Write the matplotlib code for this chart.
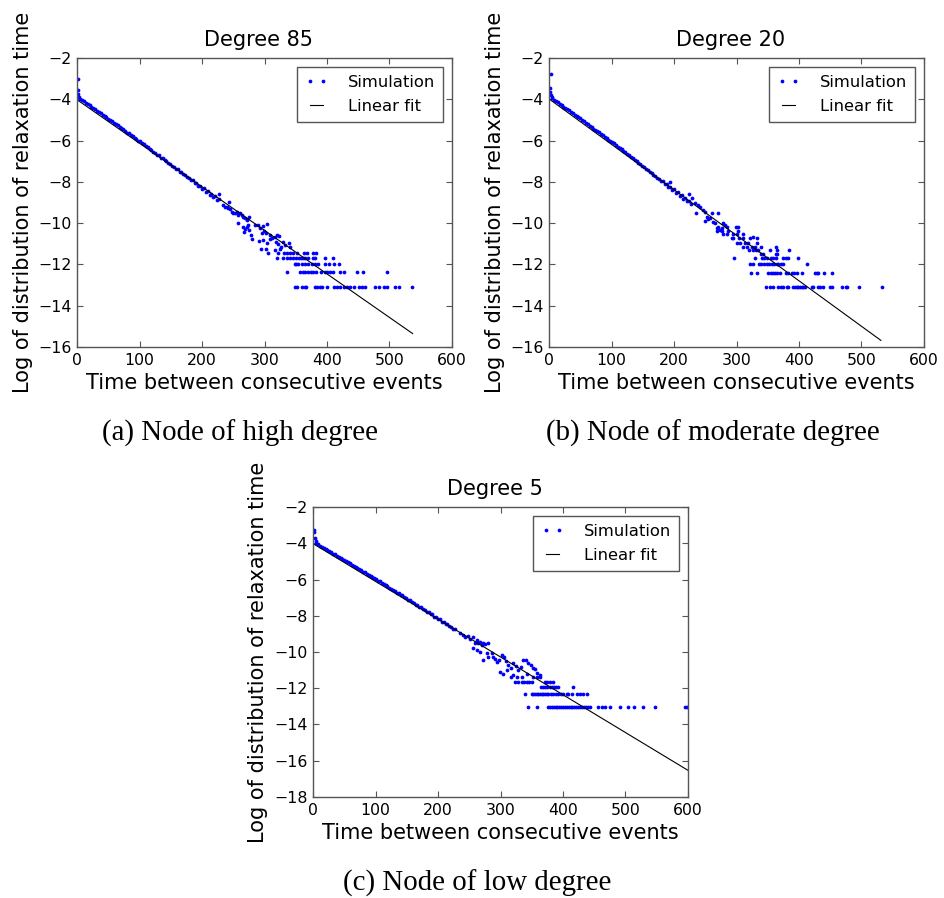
import matplotlib
matplotlib.use("Agg")
import matplotlib.pyplot as plt
import numpy as np

plt.rcParams['font.family'] = 'DejaVu Sans'
plt.rcParams['axes.unicode_minus'] = True

# ---- Degree 85 ----
a_head_t = [1, 1, 2, 3]
a_head_y = [-3.02, -3.53, -3.76, -3.87]
a_band_y = [-3.97, -4.05, -4.09, -4.17, -4.25, -4.29, -4.36, -4.44, -4.48, -4.55,
            -4.63, -4.68, -4.75, -4.83, -4.87, -4.94, -5.02, -5.07, -5.14, -5.22,
            -5.26, -5.33, -5.41, -5.45, -5.53, -5.61, -5.64, -5.74, -5.78, -5.87,
            -5.91, -6.00, -6.04, -6.14, -6.18, -6.27, -6.31, -6.42, -6.45, -6.55,
            -6.58, -6.69, -6.72, -6.82, -6.85, -6.96, -6.98, -7.10, -7.12, -7.23,
            -7.26, -7.36, -7.39, -7.50, -7.52, -7.64, -7.66, -7.78, -7.79, -7.92,
            -7.93, -8.06, -8.05, -8.21, -8.19, -8.35, -8.31, -8.47, -8.44, -8.62,
            -8.57, -8.75, -8.70, -8.88, -8.83]
a_tail_t = [227.7, 243.7, 234.1, 236.8, 239.5, 242.1, 244.8, 247.5, 250.1, 252.8,
            255.5, 258.1, 260.8, 263.5, 266.1, 258.1, 268.8, 271.5, 275.7, 266.1,
            268.8, 267.2, 271.5, 274.1, 275.7, 277.9, 279.5, 284.8, 290.1, 292.8,
            297.1, 304.5, 299.2, 302.4, 308.8, 295.5, 291.2, 298.1, 303.5, 308.8,
            311.5, 316.8, 320.5, 323.7, 318.4, 322.1, 325.9, 329.1, 332.8, 339.7,
            340.8, 294.4, 302.4, 305.6, 316.8, 324.8]
a_tail_y = [-8.60, -8.96, -9.12, -9.20, -9.23, -9.28, -9.33, -9.44, -9.49, -9.53,
            -9.44, -9.61, -9.53, -9.61, -9.69, -10.01, -9.77, -9.85, -9.72, -10.17,
            -10.30, -10.41, -10.20, -10.09, -10.33, -10.58, -10.79, -10.09, -10.09, -10.25,
            -10.14, -10.04, -10.37, -10.49, -10.58, -10.49, -10.85, -10.82, -10.98, -10.79,
            -10.74, -10.66, -10.58, -10.62, -10.90, -11.01, -11.14, -10.90, -11.06, -10.95,
            -11.17, -11.27, -11.27, -11.46, -11.30, -11.27]
# rare intervals sit on discrete levels log(k/N)
a_lvl_y = [-13.07, -12.38, -11.97, -11.69, -11.46]
a_lvl_t = [
    [348, 352, 360, 364, 367, 381, 384, 388, 392, 400, 411, 416, 421, 427, 432,
     437, 443, 451, 456, 461, 477, 483, 491, 496, 509, 515, 536],
    [336.5, 356.8, 361, 365, 370, 374, 378, 382, 391, 397, 400, 405, 409, 420,
     428, 448.5, 458, 496],
    [348.8, 350.4, 354.1, 359.5, 364.8, 370.1, 375.5, 380.8, 386.1, 396.8, 403,
     411.2, 419.7],
    [320.5, 330.1, 335.5, 340.8, 345.1, 350.4, 355.7, 358.5, 362, 364.8, 370.1,
     378.1, 380.8, 396.3, 410.1],
    [322, 331.2, 336.5, 340.8, 346.1, 351.5, 363.7, 367.5, 378.1, 382.4],
]
a_fit_t = [0, 537]
a_fit_y = [-4.02, -15.35]

# ---- Degree 20 ----
b_head_t = [3, 1, 2, 3, 4]
b_head_y = [-2.79, -3.43, -3.64, -3.80, -3.90]
b_band_y = [-3.96, -4.02, -4.10, -4.14, -4.23, -4.28, -4.36, -4.40, -4.49, -4.53,
            -4.62, -4.67, -4.75, -4.80, -4.88, -4.93, -5.02, -5.06, -5.15, -5.20,
            -5.29, -5.33, -5.42, -5.47, -5.55, -5.60, -5.69, -5.74, -5.82, -5.87,
            -5.96, -6.01, -6.09, -6.14, -6.23, -6.29, -6.38, -6.43, -6.52, -6.57,
            -6.66, -6.71, -6.80, -6.85, -6.95, -6.99, -7.10, -7.13, -7.24, -7.27,
            -7.39, -7.41, -7.53, -7.55, -7.68, -7.70, -7.83, -7.84, -7.97, -7.96,
            -8.11, -8.12, -8.25, -8.24, -8.38, -8.37, -8.52, -8.51, -8.67, -8.65,
            -8.82, -8.79, -8.95, -8.93, -9.08]
b_tail_t = [193.0, 224.5, 228.3, 233.6, 235.2, 238.9, 241.6, 245.9, 249.6, 249.6,
            252.3, 254.9, 257.6, 260.3, 262.9, 270.9, 265.6, 268.3, 270.9, 273.6,
            276.3, 278.9, 281.6, 284.3, 299.2, 302.9,
            320.5, 326.9, 331.2, 334.9, 353.6, 364.3, 384.3,
            309.9, 316.3, 324.3, 329.6, 338.7, 363.2,
            300.3, 305.6, 313.6, 318.9, 332.3,
            292.3, 294.9, 304.5, 310.9, 321.6, 333.3, 326.7,
            278.9, 284.3, 293.9, 300.3, 310.9,
            268.3, 276.3, 286.9, 302.9]
b_tail_y = [-8.03, -8.60, -8.80, -9.04, -9.53, -9.12, -9.23, -9.36, -9.44, -9.88,
            -9.69, -9.82, -9.77, -9.53, -9.93, -9.53, -10.01, -10.25, -10.17, -10.33,
            -10.25, -10.01, -10.09, -10.20, -10.17, -10.20,
            -11.30, -11.30, -11.30, -11.30, -11.30, -11.30, -11.30,
            -11.14, -11.14, -11.14, -11.14, -11.14, -11.17,
            -10.95, -10.95, -10.95, -10.95, -10.95,
            -10.74, -10.74, -10.74, -10.74, -10.74, -10.74, -10.68,
            -10.53, -10.53, -10.53, -10.53, -10.53,
            -10.37, -10.37, -10.37, -10.37]
b_lvl_y = [-13.09, -12.40, -11.99, -11.70, -11.48]
b_lvl_t = [
    [346.6, 353.6, 358.9, 366.9, 370.7, 373.9, 380.3, 382.9, 390.9, 393.6, 396.3,
     398.9, 401.6, 404.3, 406.9, 409.6, 420.3, 422.9, 430.9, 433.6, 437.8, 449.6,
     452.3, 468.2, 475.2, 477.3, 496.5, 532.3],
    [322.6, 333.3, 350.9, 354.7, 358.9, 361.6, 365.3, 369.6, 378.6, 382.9, 388.3,
     392.0, 396.3, 404.3, 425.6, 428.3, 430.9, 440.0, 452.8],
    [321.6, 326.9, 336.0, 338.7, 344.0, 348.3, 352.5, 356.3, 360.0, 364.3, 366.9,
     370.7, 374.9, 412.3],
    [296.0, 329.6, 340.3, 344.0, 348.3, 354.7, 357.9, 363.2, 373.9, 379.2, 382.9,
     398.9],
    [338.7, 342.9, 363.2, 365.3],
]
b_fit_t = [0, 531]
b_fit_y = [-3.98, -15.68]

# ---- Degree 5 ----
c_head_t = [2, 2, 3, 4]
c_head_y = [-3.27, -3.40, -3.73, -3.85]
c_band_y = [-4.00, -4.06, -4.14, -4.18, -4.26, -4.30, -4.37, -4.45, -4.49, -4.57,
            -4.61, -4.69, -4.74, -4.82, -4.86, -4.94, -4.98, -5.06, -5.11, -5.19,
            -5.23, -5.31, -5.35, -5.43, -5.48, -5.56, -5.60, -5.68, -5.73, -5.81,
            -5.85, -5.93, -5.98, -6.06, -6.11, -6.19, -6.24, -6.32, -6.37, -6.45,
            -6.50, -6.58, -6.62, -6.72, -6.75, -6.85, -6.88, -6.98, -7.01, -7.12,
            -7.14, -7.25, -7.27, -7.38, -7.40, -7.52, -7.53, -7.65, -7.66, -7.79,
            -7.80, -7.93, -7.92, -8.06, -8.05, -8.19, -8.18, -8.32, -8.33, -8.46,
            -8.45, -8.59, -8.60, -8.73, -8.72]
c_tail_t = [235.2, 240.5, 243.2, 248.5, 251.2, 256.5, 259.2, 261.9, 264.5, 267.2,
            269.9, 272.5, 275.2, 280.5, 271.5, 256.5, 261.9, 267.2, 277.9, 280.5,
            285.9, 288.5, 291.2, 293.9, 298.1, 301.9, 305.6, 308.8, 312.5, 316.3,
            320.5, 324.8, 328.5, 332.3, 335.5, 340.8, 344.5, 348.3, 351.4, 355.2,
            358.9, 363.2, 299.2, 304.5, 310.9, 316.3, 320.5, 326.9, 333.9, 341.9,
            352.5, 357.9, 363.2]
c_tail_y = [-8.93, -9.06, -9.19, -9.12, -9.30, -9.19, -9.48, -9.34, -9.52, -9.43,
            -9.61, -9.49, -9.56, -9.52, -10.44, -9.80, -9.89, -9.98, -10.07, -10.26,
            -10.07, -10.29, -10.40, -10.53, -10.44, -10.17, -10.29, -10.48, -10.72, -10.90,
            -10.59, -10.77, -10.99, -10.81, -10.44, -10.44, -10.59, -10.72, -10.90, -10.96,
            -11.18, -11.27, -11.08, -11.21, -10.99, -11.40, -11.27, -11.40, -11.40, -11.21,
            -11.40, -11.40, -11.40]
c_lvl_y = [-13.03, -12.34, -11.93, -11.64]
c_lvl_t = [
    [343.5, 357.9, 376.5, 379.5, 382.0, 385.1, 388.3, 391.0, 394.2, 397.4, 400.1,
     402.8, 406.0, 409.2, 412.4, 415.1, 418.3, 421.5, 424.7, 427.9, 431.1, 434.3,
     437.5, 440.7, 443.4, 456.5, 461.9, 467.2, 475.2, 491.2, 504.5, 513.6, 528.5,
     547.2, 595.2, 598.9],
    [339.2, 349.9, 352.5, 355.2, 357.9, 360.5, 363.2, 365.9, 368.5, 371.2, 373.9,
     376.5, 380.3, 384.5, 388.8, 392.5, 396.3, 400.5, 405.9, 408.5, 413.9, 421.9,
     427.2, 432.5, 438.9],
    [364.3, 367.5, 371.2, 374.9, 379.2, 382.4, 385.6, 388.8, 392.5, 415.5],
    [323.2, 328.5, 333.9, 337.6, 341.9, 346.1, 349.9, 371.2, 374.9, 379.2, 384.5],
]
c_fit_t = [0, 600]
c_fit_y = [-4.02, -16.53]

band_t = np.arange(5, 230, 3)

FRAME = '#555555'


def collect(head_t, head_y, band_y, tail_t, tail_y, lvl_y, lvl_t):
    xs = list(head_t) + list(band_t) + list(tail_t)
    ys = list(head_y) + list(band_y) + list(tail_y)
    for lv, ts in zip(lvl_y, lvl_t):
        xs += ts
        ys += [lv] * len(ts)
    return xs, ys


def panel(rect, title, xs, ys, fit_t, fit_y, ymin):
    ax = fig.add_axes(rect)
    ax.plot(xs, ys, 'o', color='b', markersize=2.7, markeredgewidth=0,
            label='Simulation')
    ax.plot(fit_t, fit_y, '-', color='k', linewidth=0.8, label='Linear fit')
    ax.set_xlim(0, 600)
    ax.set_ylim(ymin, -2)
    ax.set_xticks(range(0, 601, 100))
    ax.set_yticks(range(ymin, -1, 2))
    ax.tick_params(direction='in', top=True, right=True, length=4,
                   color=FRAME, labelsize=11.3, pad=4)
    for s in ax.spines.values():
        s.set_color(FRAME)
        s.set_linewidth(1.0)
    ax.set_title(title, fontsize=15, pad=9, x=0.485)
    ax.set_xlabel('Time between consecutive events', fontsize=15, labelpad=4)
    ax.set_ylabel('Log of distribution of relaxation time', fontsize=15,
                  labelpad=4)
    leg = ax.legend(loc='upper right', numpoints=2, fontsize=11.8,
                    handlelength=1.4, handletextpad=1.2, borderaxespad=0.55,
                    labelspacing=0.55, fancybox=False, framealpha=1,
                    borderpad=0.5)
    leg.get_frame().set_edgecolor(FRAME)
    leg.get_frame().set_linewidth(1.0)
    return ax


fig = plt.figure(figsize=(9.44, 8.98), dpi=100)

xs, ys = collect(a_head_t, a_head_y, a_band_y, a_tail_t, a_tail_y, a_lvl_y, a_lvl_t)
panel([0.0816, 0.6136, 0.3972, 0.3218], 'Degree 85', xs, ys, a_fit_t, a_fit_y, -16)

xs, ys = collect(b_head_t, b_head_y, b_band_y, b_tail_t, b_tail_y, b_lvl_y, b_lvl_t)
panel([0.5816, 0.6136, 0.3972, 0.3218], 'Degree 20', xs, ys, b_fit_t, b_fit_y, -16)

xs, ys = collect(c_head_t, c_head_y, c_band_y, c_tail_t, c_tail_y, c_lvl_y, c_lvl_t)
panel([0.3316, 0.1125, 0.3972, 0.3229], 'Degree 5', xs, ys, c_fit_t, c_fit_y, -18)

serif = dict(family='Liberation Serif', fontsize=20.8, ha='center', va='center')
fig.text(240 / 944, 1 - 433 / 898, '(a) Node of high degree', **serif)
fig.text(713 / 944, 1 - 433 / 898, '(b) Node of moderate degree', **serif)
fig.text(477 / 944, 1 - 883 / 898, '(c) Node of low degree', **serif)

fig.savefig('out.png', dpi=100)
